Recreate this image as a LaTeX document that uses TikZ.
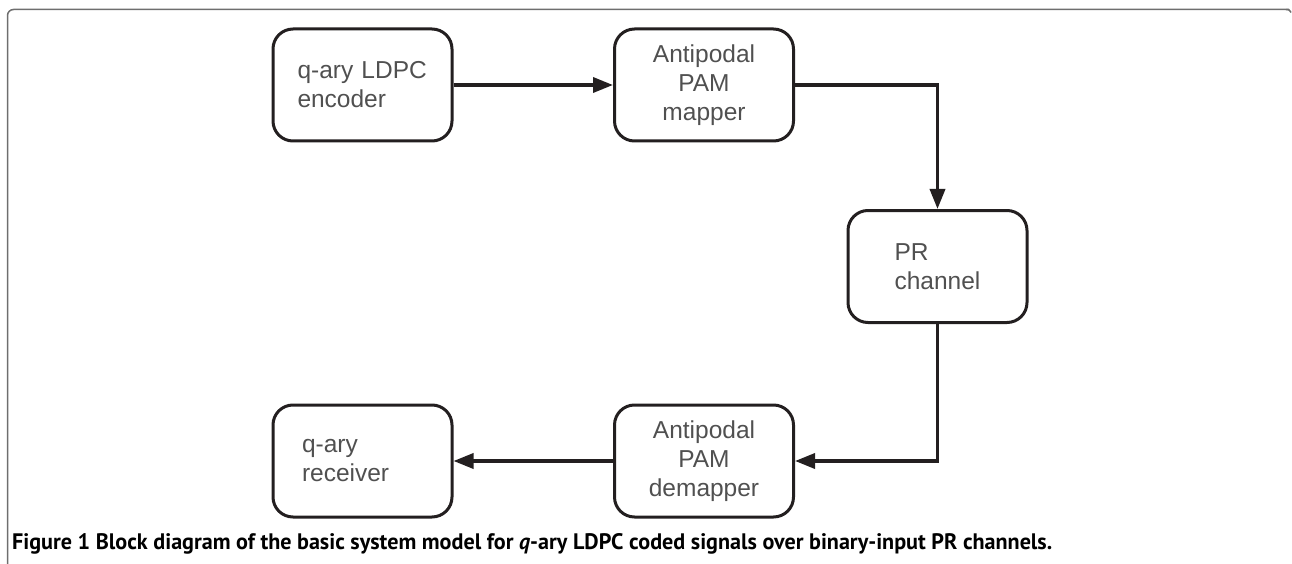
\documentclass[tikz,border=0pt]{standalone}
\usepackage{fontspec}
\setmainfont{Liberation Sans}
\newfontfamily\capfont{PT Sans}
\usetikzlibrary{arrows.meta}
\definecolor{txtgray}{HTML}{505050}
\definecolor{ink}{HTML}{231F20}
\definecolor{framegray}{HTML}{6E6E6E}
\tikzset{
  blockbox/.style={draw=ink, line width=3pt, rounded corners=20pt, minimum width=179pt, minimum height=112pt, inner sep=0pt, text=txtgray, font=\fontsize{24.5}{29}\selectfont},
  flow/.style={draw=ink, line width=3.5pt, -{Triangle[length=20pt,width=15pt]}}
}
\begin{document}
\begin{tikzpicture}[x=1pt,y=-1pt]
\useasboundingbox (0,0) rectangle (1292,564);
\draw[framegray, line width=1.5pt, rounded corners=6pt] (7.5,566) -- (7.5,9.5) -- (1289,9.5);
\draw[framegray, line width=1.5pt] (1286,9.5) .. controls (1289,9.5) .. (1291,12.5);
\node[blockbox, align=left, text width=130pt] (enc) at (362.5,85) {q-ary LDPC\\encoder};
\node[blockbox, align=center] (map) at (704,85) {Antipodal\\PAM\\mapper};
\node[blockbox, align=left, text width=86pt] (pr) at (937.5,266.5) {PR\\channel};
\node[blockbox, align=center] (dem) at (704,461) {Antipodal\\PAM\\demapper};
\node[blockbox, align=left, text width=121pt] (rec) at (362.5,461) {q-ary\\receiver};
\draw[flow] (enc.east) -- (map.west);
\draw[flow] (map.east) -| (pr.north);
\draw[flow] (pr.south) |- (dem.east);
\draw[flow] (dem.west) -- (rec.east);
\node[anchor=base west, inner sep=0pt] (cap) at (12,549) {\resizebox{1040pt}{16pt}{\capfont\bfseries Figure 1 Block diagram of the basic system model for \textit{q}-ary LDPC coded signals over binary-input PR channels.}};
\end{tikzpicture}
\end{document}
